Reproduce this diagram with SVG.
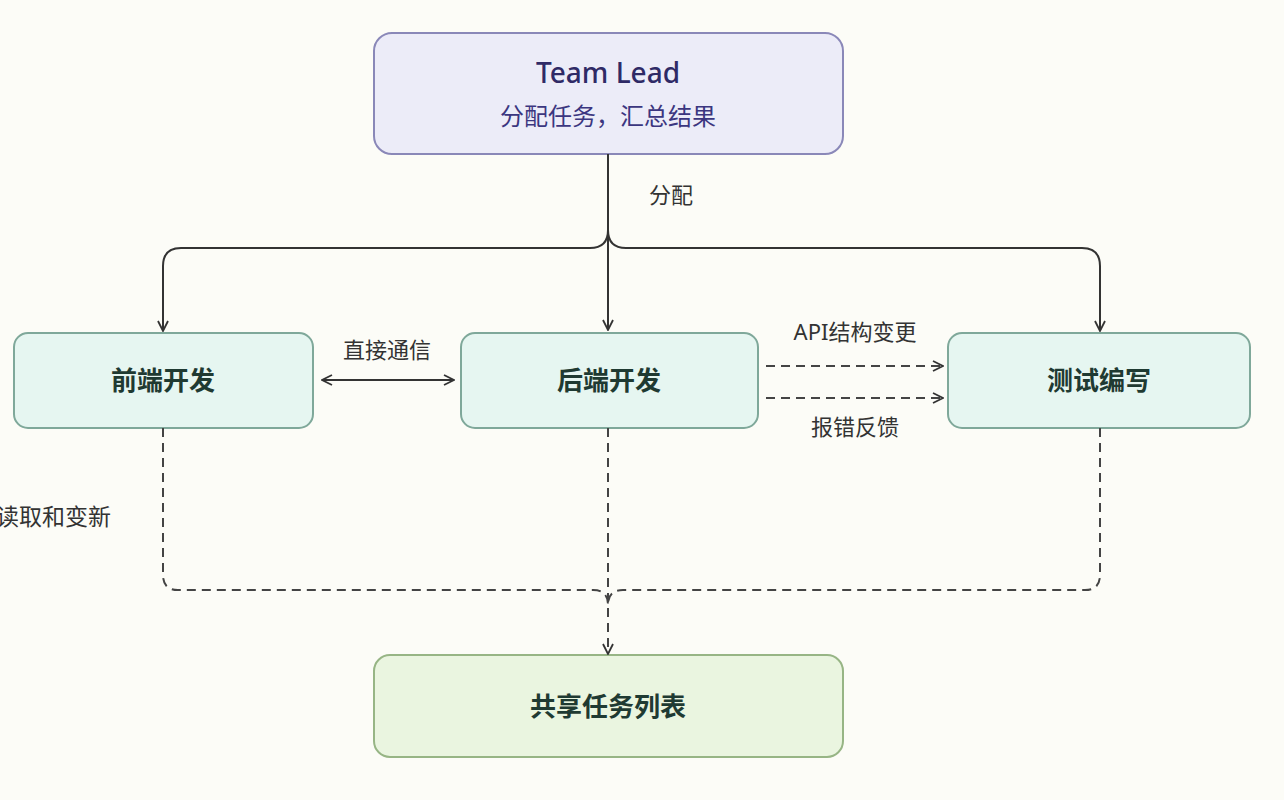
<svg xmlns="http://www.w3.org/2000/svg" width="1284" height="800" viewBox="0 0 1284 800">
<style>
text{font-family:"Noto Sans","Noto Sans CJK SC",sans-serif;text-anchor:middle}
.n{fill:#e6f6f1;stroke:#7fa89a;stroke-width:2}
.nt{font-size:26px;font-weight:bold;fill:#1f3a32}
.l{font-size:22px;fill:#333}
.s{fill:none;stroke:#333;stroke-width:2}
.d{fill:none;stroke:#444;stroke-width:2;stroke-dasharray:9 6}
</style>
<defs><marker id="a" viewBox="0 0 12 12" refX="11" refY="6" markerWidth="12" markerHeight="12" markerUnits="userSpaceOnUse" orient="auto-start-reverse"><path d="M1 1L11 6L1 11" fill="none" stroke="#333" stroke-width="1.8"/></marker></defs>
<rect width="1284" height="800" fill="#fcfcf7"/>
<g id="lead"><rect x="374" y="33" width="469" height="121" rx="18" fill="#ececf8" stroke="#8a88b8" stroke-width="2"/>
<text x="608" y="83" font-size="28" font-weight="500" fill="#2f2a66">Team Lead</text>
<text x="608" y="125" font-size="24" fill="#3b3680">分配任务，汇总结果</text></g>
<g id="fe"><rect class="n" x="14" y="333" width="299" height="95" rx="14"/><text class="nt" x="163" y="390">前端开发</text></g>
<g id="be"><rect class="n" x="461" y="333" width="297" height="95" rx="14"/><text class="nt" x="609" y="390">后端开发</text></g>
<g id="qa"><rect class="n" x="948" y="333" width="302" height="95" rx="14"/><text class="nt" x="1099" y="390">测试编写</text></g>
<g id="list"><rect x="374" y="655" width="469" height="102" rx="16" fill="#eaf5e0" stroke="#97b585" stroke-width="2"/><text class="nt" x="608" y="716">共享任务列表</text></g>
<g id="edges">
<path class="s" d="M608 154V330" marker-end="url(#a)"/>
<path class="s" d="M608 230Q608 248 590 248H181Q163 248 163 266V331" marker-end="url(#a)"/>
<path class="s" d="M608 230Q608 248 626 248H1082Q1100 248 1100 266V331" marker-end="url(#a)"/>
<path class="s" d="M322 380H454" marker-start="url(#a)" marker-end="url(#a)"/>
<path class="d" d="M766 366H943" marker-end="url(#a)"/>
<path class="d" d="M766 398H943" marker-end="url(#a)"/>
<path class="d" d="M163 428V575Q163 590 178 590H593Q608 590 608 605"/>
<path class="d" d="M1100 428V575Q1100 590 1085 590H623Q608 590 608 605"/>
<path class="d" d="M608 428V654" marker-end="url(#a)"/>
<text class="l" x="671" y="203">分配</text>
<text class="l" x="387" y="358">直接通信</text>
<text class="l" x="855" y="340">API结构变更</text>
<text class="l" x="855" y="435">报错反馈</text>
<text class="l" x="111" y="525" style="text-anchor:end;font-size:23px">读取和变新</text>
</g>
</svg>
